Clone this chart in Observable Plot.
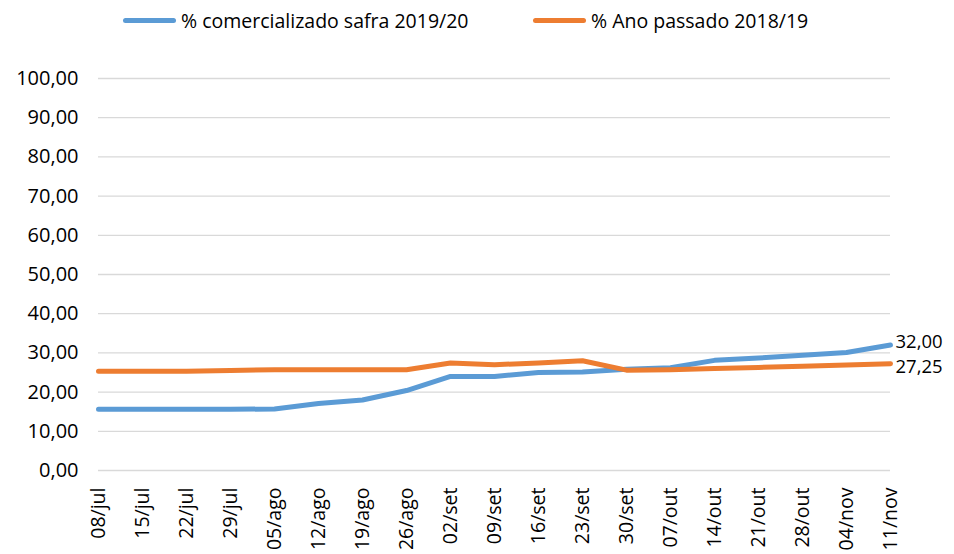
<!DOCTYPE html>
<html>
<head>
<meta charset="utf-8">
<script src="https://cdn.jsdelivr.net/npm/d3@7"></script>
<script src="https://cdn.jsdelivr.net/npm/@observablehq/plot@0.6"></script>
<style>
  body { margin: 0; background: #fff; font-family: "Open Sans", sans-serif; }
  #legend { position: relative; height: 40px; width: 954px; }
  .item { position: absolute; top: 7px; display: flex; align-items: center; font-size: 19.5px; color: #000; white-space: nowrap; }
  .sw { width: 53px; height: 5px; border-radius: 3px; margin-right: 5px; }
</style>
</head>
<body>
<div id="legend"></div>
<div id="chart"></div>
<script>
const weeks = ["08/jul","15/jul","22/jul","29/jul","05/ago","12/ago","19/ago","26/ago","02/set","09/set","16/set","23/set","30/set","07/out","14/out","21/out","28/out","04/nov","11/nov"];
const safra2019 = [15.6,15.6,15.6,15.6,15.7,17.1,18.0,20.4,24.0,24.0,25.0,25.1,25.8,26.2,28.1,28.7,29.4,30.1,32.0];
const ano2018 = [25.3,25.3,25.3,25.5,25.7,25.7,25.7,25.7,27.4,27.0,27.4,28.0,25.6,25.7,26.0,26.3,26.6,26.9,27.25];
const seriesNames = ["% comercializado safra 2019/20", "% Ano passado 2018/19"];
const colors = ["#5B9BD5", "#ED7D31"];
const yTicks = [0,10,20,30,40,50,60,70,80,90,100];

const fmt = v => v.toFixed(2).replace(".", ",");

const rows = [];
weeks.forEach((w, i) => {
  rows.push({week: w, value: safra2019[i], series: seriesNames[0]});
  rows.push({week: w, value: ano2018[i], series: seriesNames[1]});
});
const lastWeek = weeks[weeks.length - 1];
const lastTop = rows.filter(d => d.week === lastWeek && d.series === seriesNames[0]);
const lastBottom = rows.filter(d => d.week === lastWeek && d.series === seriesNames[1]);

// legend
const legend = document.getElementById("legend");
const legendX = [123, 533];
seriesNames.forEach((s, i) => {
  const el = document.createElement("div");
  el.className = "item";
  el.style.left = legendX[i] + "px";
  el.innerHTML = `<div class="sw" style="background:${colors[i]}"></div><span>${s}</span>`;
  legend.appendChild(el);
});

const chart = Plot.plot({
  width: 954,
  height: 514,
  marginLeft: 98,
  marginRight: 64,
  marginTop: 38,
  marginBottom: 84,
  style: {fontFamily: "Open Sans, sans-serif", fontSize: "20px", color: "#000", background: "#fff"},
  x: {type: "point", domain: weeks, padding: 0, label: null},
  y: {domain: [0, 100], label: null},
  color: {domain: seriesNames, range: colors},
  marks: [
    Plot.ruleY(yTicks, {stroke: "#d9d9d9", strokeWidth: 1.3}),
    Plot.axisY({ticks: yTicks, tickFormat: fmt, tickSize: 0, tickPadding: 20, fontSize: 20, label: null}),
    Plot.axisX({tickSize: 0, tickRotate: -90, tickPadding: 17, fontSize: 19.5, label: null}),
    Plot.line(rows, {x: "week", y: "value", z: "series", stroke: "series", strokeWidth: 5, strokeLinecap: "round", strokeLinejoin: "round"}),
    Plot.text(lastTop, {x: "week", y: "value", text: d => fmt(d.value), textAnchor: "start", dx: 5, dy: -3, fontSize: 18.5, fill: "#000"}),
    Plot.text(lastBottom, {x: "week", y: "value", text: d => fmt(d.value), textAnchor: "start", dx: 5, dy: 3.5, fontSize: 18.5, fill: "#000"})
  ]
});
document.getElementById("chart").appendChild(chart);
</script>
</body>
</html>
